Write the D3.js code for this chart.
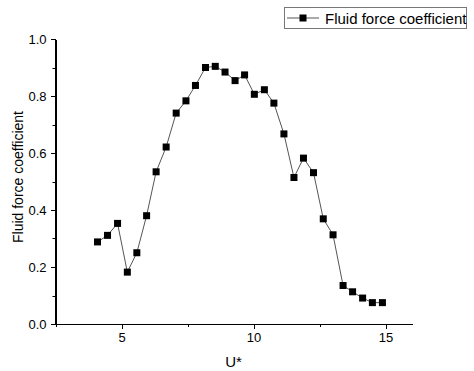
<!DOCTYPE html>
<meta charset="utf-8">
<style>
body { margin: 0; background: #fff; }
text { font-family: "Liberation Sans", Arial, sans-serif; fill: #000; }
.axis path, .axis line { stroke: #000; shape-rendering: crispEdges; }
</style>
<body>
<script src="https://d3js.org/d3.v7.min.js"></script>
<script>

// data
var uStar = [4.09, 4.47, 4.85, 5.22, 5.58, 5.95, 6.31, 6.69, 7.07, 7.44,
             7.80, 8.18, 8.55, 8.92, 9.30, 9.66, 10.03, 10.41, 10.77, 11.15,
             11.53, 11.89, 12.27, 12.64, 13.01, 13.39, 13.75, 14.13, 14.50, 14.88];
var coeff = [0.288, 0.311, 0.353, 0.182, 0.250, 0.380, 0.534, 0.621, 0.740, 0.783,
             0.837, 0.900, 0.904, 0.884, 0.854, 0.874, 0.806, 0.822, 0.775, 0.667,
             0.514, 0.582, 0.531, 0.369, 0.313, 0.135, 0.113, 0.091, 0.075, 0.075];
var xTicks = [5, 10, 15];
var yTicks = [0, 0.2, 0.4, 0.6, 0.8, 1.0];
var seriesName = "Fluid force coefficient";

var W = 474, H = 371;
var margin = {top: 39, right: 62, bottom: 47, left: 55.5};

var svg = d3.select("body").append("svg")
  .attr("width", W).attr("height", H);

var x = d3.scaleLinear().domain([2.5, 16]).range([margin.left, W - margin.right]);
var y = d3.scaleLinear().domain([0, 1]).range([H - margin.bottom, margin.top]);

// minor ticks
var g = svg.append("g");
g.selectAll(".mx").data([2.5, 7.5, 12.5]).enter().append("line")
  .attr("x1", d => Math.round(x(d)) + 0.5).attr("x2", d => Math.round(x(d)) + 0.5)
  .attr("y1", y(0)).attr("y2", y(0) + 3)
  .attr("stroke", "#000");
g.selectAll(".my").data([0.1, 0.3, 0.5, 0.7, 0.9]).enter().append("line")
  .attr("y1", d => Math.round(y(d)) + 0.5).attr("y2", d => Math.round(y(d)) + 0.5)
  .attr("x1", x(2.5) - 3).attr("x2", x(2.5))
  .attr("stroke", "#000");

// axes
var xAxis = svg.append("g").attr("class", "axis")
  .attr("transform", "translate(0," + y(0) + ")")
  .call(d3.axisBottom(x).tickValues(xTicks).tickSize(5).tickSizeOuter(0).tickPadding(4));
var yAxis = svg.append("g").attr("class", "axis")
  .attr("transform", "translate(" + x(2.5) + ",0)")
  .call(d3.axisLeft(y).tickValues(yTicks).tickSize(5).tickSizeOuter(0).tickPadding(4)
    .tickFormat(d3.format(".1f")));
svg.selectAll(".axis text").style("font-size", "13px").style("font-family", "'Liberation Sans', Arial, sans-serif");
svg.selectAll(".axis path").attr("stroke-width", 1.3);

// axis titles
svg.append("text")
  .attr("x", x(10) - 20).attr("y", 367)
  .attr("text-anchor", "middle")
  .style("font-size", "15px")
  .text("U*");
svg.append("text")
  .attr("transform", "translate(23," + 177 + ") rotate(-90)")
  .attr("text-anchor", "middle")
  .style("font-size", "14px")
  .text("Fluid force coefficient");

// line + markers
var pts = uStar.map((u, i) => [u, coeff[i]]);
svg.append("path")
  .datum(pts)
  .attr("fill", "none")
  .attr("stroke", "#555")
  .attr("stroke-width", 1)
  .attr("d", d3.line().x(d => x(d[0])).y(d => y(d[1])));

svg.selectAll(".dot").data(pts).enter().append("rect")
  .attr("class", "dot")
  .attr("x", d => x(d[0]) - 3.5)
  .attr("y", d => y(d[1]) - 3.5)
  .attr("width", 7).attr("height", 7)
  .attr("fill", "#000");

// legend
var lg = svg.append("g");
lg.append("rect")
  .attr("x", 284.5).attr("y", 7.5).attr("width", 182).attr("height", 21)
  .attr("fill", "#fff").attr("stroke", "#777");
lg.append("line")
  .attr("x1", 287).attr("x2", 319).attr("y1", 18).attr("y2", 18)
  .attr("stroke", "#555");
lg.append("rect")
  .attr("x", 299.5).attr("y", 14.5).attr("width", 7).attr("height", 7)
  .attr("fill", "#000");
lg.append("text")
  .attr("x", 325).attr("y", 23.5)
  .style("font-size", "15px")
  .text(seriesName);

</script>
</body>
